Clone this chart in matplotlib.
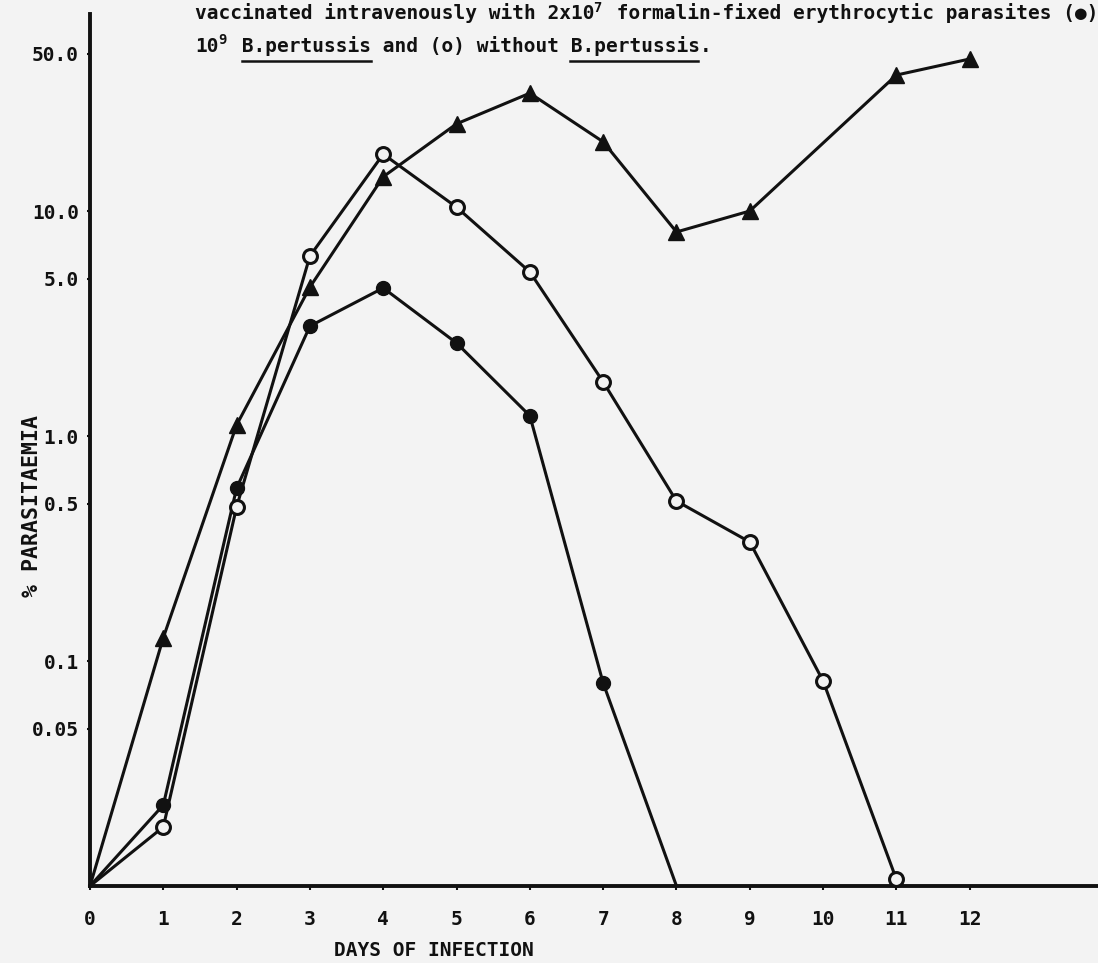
import matplotlib
matplotlib.use('Agg')
import matplotlib.pyplot as plt
from matplotlib.lines import Line2D
from matplotlib.ticker import FixedLocator, FixedFormatter, NullLocator

# ---- data ----
days_control = [0, 1, 2, 3, 4, 5, 6, 7, 8, 9, 11, 12]
pct_control = [0.01, 0.127, 1.12, 4.59, 14.2, 24.4, 33.4, 20.3, 8.07, 10.0, 40.2, 47.4]

days_without = [0, 1, 2, 3, 4, 5, 6, 7, 8, 9, 10, 11]
pct_without = [0.01, 0.0183, 0.484, 6.31, 17.9, 10.4, 5.36, 1.74, 0.514, 0.338, 0.0815, 0.0107]

days_with = [0, 1, 2, 3, 4, 5, 6, 7, 8]
pct_with = [0.01, 0.0229, 0.587, 3.08, 4.55, 2.59, 1.23, 0.0798, 0.01]

x_ticks = list(range(13))
x_ticklabels = [str(d) for d in x_ticks]
y_ticks = [0.05, 0.1, 0.5, 1.0, 5.0, 10.0, 50.0]
y_ticklabels = ['0.05', '0.1', '0.5', '1.0', '5.0', '10.0', '50.0']

# ---- figure ----
W, H, DPI = 1098, 963, 100
BG = '#f3f3f3'
INK = '#111111'
MONO = ['DejaVu Sans Mono', 'DejaVu Sans']

fig = plt.figure(figsize=(W / DPI, H / DPI), dpi=DPI, facecolor=BG)
left_px, bottom_px, top_px = 90, 886, 14
ax = fig.add_axes([left_px / W, (H - bottom_px) / H, 1 - left_px / W, (bottom_px - top_px) / H])
ax.set_facecolor('none')

ax.set_yscale('log')
ax.set_xlim(0, 13.75)
ax.set_ylim(0.01, 75.1)

lw = 2.2
ax.plot(days_control, pct_control, color=INK, lw=lw, marker='^', ms=11,
        mfc=INK, mec=INK, markevery=list(range(1, len(days_control))), clip_on=False, zorder=3)
ax.plot(days_with, pct_with, color=INK, lw=lw, marker='o', ms=10,
        mfc=INK, mec=INK, markevery=list(range(1, len(days_with) - 1)), clip_on=False, zorder=3)
ax.plot(days_without, pct_without, color=INK, lw=lw, marker='o', ms=10,
        mfc=BG, mec=INK, mew=2.2, markevery=list(range(1, len(days_without))), clip_on=False, zorder=4)

for s in ['top', 'right']:
    ax.spines[s].set_visible(False)
for s in ['left', 'bottom']:
    ax.spines[s].set_linewidth(2.8)
    ax.spines[s].set_color(INK)

ax.xaxis.set_major_locator(FixedLocator(x_ticks))
ax.xaxis.set_major_formatter(FixedFormatter(x_ticklabels))
ax.yaxis.set_major_locator(FixedLocator(y_ticks))
ax.yaxis.set_major_formatter(FixedFormatter(y_ticklabels))
ax.yaxis.set_minor_locator(NullLocator())
ax.tick_params(axis='x', length=3, width=1.5, pad=14, color=INK)
ax.tick_params(axis='y', length=2, width=1.5, pad=6, color=INK)
for lab in ax.get_xticklabels() + ax.get_yticklabels():
    lab.set_family(MONO)
    lab.set_fontsize(14)
    lab.set_fontweight('bold')
    lab.set_color(INK)

fig.text(32 / W, 1 - 506 / H, '% PARASITAEMIA', rotation=90, ha='center', va='center',
         family=MONO, fontsize=15.5, fontweight='bold', color=INK)
fig.text(434 / W, 1 - 950 / H, 'DAYS OF INFECTION', ha='center', va='center',
         family=MONO, fontsize=14, fontweight='bold', color=INK)

# ---- caption text (monospace, placed by character cells) ----
fs = 14
adv = 0.6021 * fs * DPI / 72.0  # px per character
x0 = 195
base1 = 19
base2 = 52


def put(col, base, s, size=fs, raise_px=0):
    fig.text((x0 + col * adv) / W, 1 - (base - raise_px) / H, s, ha='left', va='baseline',
             family=MONO, fontsize=size, fontweight='bold', color=INK)


l1a = 'vaccinated intravenously with 2x10'
put(0, base1, l1a)
put(len(l1a), base1, '7', size=10, raise_px=7)
put(len(l1a) + 1, base1, ' formalin-fixed erythrocytic parasites (\u25cf)')

put(0, base2, '10')
put(2, base2, '9', size=10, raise_px=8)
l2 = ' B.pertussis and (o) without B.pertussis.'
put(3, base2, l2)

ul_y = 1 - 61 / H
for start in [3 + 1, 3 + l2.index('B.pertussis', 5)]:
    xs = (x0 + start * adv) / W
    xe = (x0 + (start + 11) * adv) / W
    fig.add_artist(Line2D([xs, xe], [ul_y, ul_y], transform=fig.transFigure, color=INK, lw=1.8))

fig.savefig('out.png', dpi=DPI, facecolor=BG)
